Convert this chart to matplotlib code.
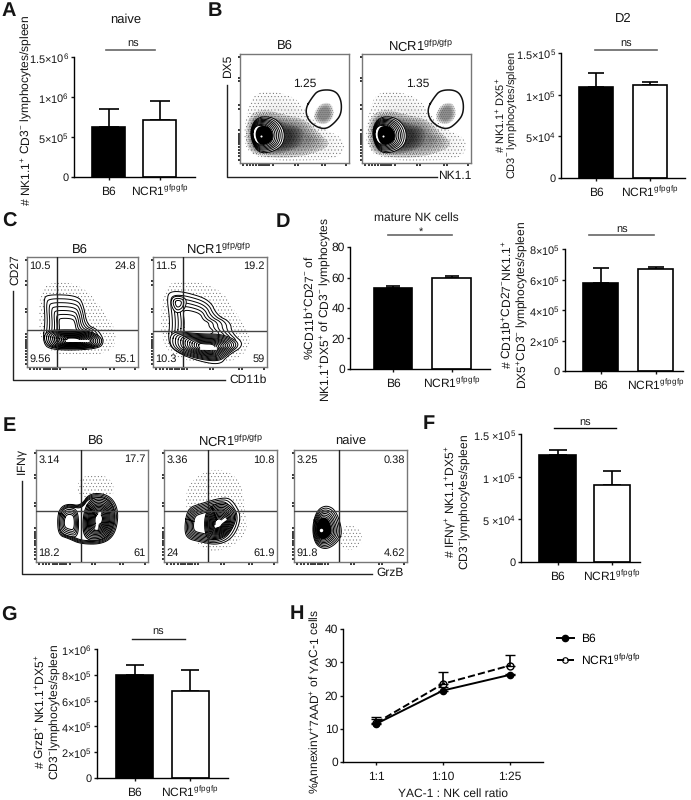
import numpy as np
import matplotlib
matplotlib.use('Agg')
import matplotlib.pyplot as plt
from matplotlib.patches import PathPatch
from matplotlib.path import Path

W, H = 691, 800
plt.rcParams['font.family'] = ['Liberation Sans', 'DejaVu Sans']
plt.rcParams['mathtext.fontset'] = 'custom'
plt.rcParams['mathtext.rm'] = 'Liberation Sans'
plt.rcParams['mathtext.it'] = 'Liberation Sans'
plt.rcParams['mathtext.bf'] = 'Liberation Sans:bold'
plt.rcParams['mathtext.default'] = 'regular'
plt.rcParams['hatch.linewidth'] = 0.25
plt.rcParams['text.hinting'] = 'no_hinting'
plt.rcParams['text.hinting_factor'] = 1

# bar panels
groups = ['B6', 'NCR1$^{gfpgfp}$']
a_vals, a_err = [6.25e5, 7.1e5], [2.3e5, 2.4e5]
b_vals, b_err = [1.09e5, 1.12e5], [0.17e5, 0.03e5]
d1_vals, d1_err = [53, 60], [1.2, 0.8]
d2_vals, d2_err = [5.79e5, 6.68e5], [0.94e5, 0.16e5]
f_vals, f_err = [1.25e5, 0.90e5], [0.06e5, 0.17e5]
g_vals, g_err = [8.0e5, 6.75e5], [0.75e5, 1.62e5]

# killing curve
ratios = ['1:1', '1:10', '1:25']
h_b6, h_b6_err = [11.5, 21.5, 26.2], [1.5, 1.0, 0.3]
h_ncr, h_ncr_err = [11.8, 23.5, 29.0], [1.7, 3.7, 3.2]

# flow plots, outlines in plot fractions
b_gate = [(.60, .50), (.66, .60), (.72, .67), (.87, .67), (.93, .58), (.93, .45), (.87, .37), (.79, .31), (.70, .33), (.62, .40)]
b_core = [(.09, .25), (.12, .38), (.20, .43), (.33, .41), (.41, .30), (.40, .17), (.30, .10), (.16, .09)]
b_sparse = [(.03, .10), (.05, .45), (.15, .68), (.50, .62), (.62, .45), (.75, .32), (.97, .22), (.93, .04), (.60, .02), (.30, .02)]
b_medium = [(.05, .10), (.06, .42), (.20, .50), (.42, .44), (.60, .40), (.72, .28), (.85, .16), (.60, .06), (.30, .04)]
b_dense = [(.07, .12), (.08, .40), (.20, .46), (.42, .36), (.58, .32), (.58, .17), (.44, .10), (.25, .07)]
b_spot = [(.66, .40), (.72, .54), (.84, .56), (.87, .42), (.77, .34)]

c1_out = [(.14, .23), (.165, .41), (.15, .61), (.18, .66), (.46, .65), (.51, .56), (.54, .38), (.64, .34), (.70, .23), (.64, .16), (.21, .15)]
c1_band = [(.15, .24), (.17, .33), (.35, .34), (.55, .33), (.66, .28), (.68, .22), (.62, .17), (.22, .16)]
c1_sparse = [(.12, .10), (.10, .65), (.20, .78), (.50, .75), (.70, .50), (.82, .30), (.75, .10)]
c2_out = [(.13, .22), (.15, .41), (.12, .64), (.16, .69), (.29, .68), (.50, .61), (.56, .47), (.68, .41), (.69, .31), (.81, .20), (.65, .10), (.59, .02), (.41, .05), (.21, .13)]
c2_band = [(.14, .22), (.17, .33), (.40, .30), (.62, .30), (.78, .21), (.65, .11), (.58, .05), (.40, .07), (.20, .14)]
c2_peak = [(.15, .58), (.18, .65), (.30, .63), (.28, .52), (.20, .48)]
c2_sparse = [(.06, .15), (.08, .72), (.25, .80), (.60, .72), (.75, .45), (.88, .25), (.75, .05), (.40, .02)]

e1_right = [(.42, .45), (.50, .58), (.64, .57), (.71, .45), (.68, .27), (.58, .19), (.42, .20)]
e1_left = [(.21, .40), (.24, .47), (.30, .49), (.38, .46), (.38, .22), (.29, .23), (.21, .27)]
e1_out = [(.19, .40), (.22, .49), (.29, .52), (.40, .50), (.48, .62), (.66, .60), (.74, .46), (.71, .25), (.60, .16), (.40, .16), (.29, .21), (.20, .24)]
e1_sparse = [(.35, .60), (.40, .78), (.65, .78), (.72, .60), (.55, .55)]
e2_out = [(.18, .31), (.21, .48), (.32, .52), (.53, .58), (.61, .55), (.69, .40), (.61, .21), (.47, .15), (.32, .18), (.20, .21)]
e2_right = [(.36, .46), (.50, .54), (.60, .50), (.65, .40), (.58, .25), (.46, .19), (.36, .22)]
e2_sparse = [(.18, .50), (.22, .72), (.45, .85), (.68, .75), (.72, .45), (.74, .25), (.55, .10), (.30, .10)]
e3_out = [(.16, .31), (.20, .46), (.285, .51), (.375, .46), (.435, .25), (.36, .15), (.27, .11), (.185, .16)]
e3_sparse = [(.40, .10), (.42, .35), (.60, .30), (.60, .12)]

nest_levels = [1, .92, .84, .76, .69, .62, .55, .49, .43, .37, .31, .25, .19]
fine_levels = [1, .93, .86, .79, .72, .66, .60, .54, .48, .42, .36, .30, .24]
flow_ticks = [.03, .06, .09, .12, .15, .17, .19, .21, .23, .25, .27, .30, .50, .53, .75, .78, .97]


def px_ax(x0, y0, x1, y1):
    return plt.gcf().add_axes([x0/W, 1-y1/H, (x1-x0)/W, (y1-y0)/H])

def label(x, y, s, **kw):
    kw.setdefault('fontsize', 8.5)
    kw.setdefault('ha', 'center')
    kw.setdefault('va', 'center')
    plt.gcf().text(x/W, 1-y/H, s, color='#151515', **kw)

def rule(x0, x1, y, color='#666666', lw=1.2):
    plt.gcf().add_artist(plt.Line2D([x0/W, x1/W], [1-y/H, 1-y/H], color=color, lw=lw))

def smooth(pts):
    # chaikin corner cutting, closed
    p = np.asarray(pts, dtype=float)
    for i in range(3):
        q = np.roll(p, -1, axis=0)
        p = np.column_stack([0.75*p+0.25*q, 0.25*p+0.75*q]).reshape(-1, 2)
    return np.vstack([p, p[0]])

def style_axes(ax, ysize=8.5):
    ax.tick_params(labelsize=8.5, length=2.5, width=1, pad=1, colors='#151515')
    ax.tick_params(axis='x', pad=10.5)
    ax.tick_params(axis='y', labelsize=ysize)
    for t in ax.get_xticklabels():
        t.set_va('baseline')
    for s in ['top', 'right']:
        ax.spines[s].set_visible(False)
    for s in ['left', 'bottom']:
        ax.spines[s].set_linewidth(1)
    ax.patch.set_alpha(0)

def bar_panel(rect, c1, c2, width, vals, err, ymax, ticks, ticklabels, cap, ysize=8):
    x0, y0, x1, y1 = rect
    step = float(c2-c1)
    ax = px_ax(x0, y0, x1, y1)
    ax.bar([0, 1], vals, width=width/step, color=['black', 'white'], edgecolor='black', linewidth=1.2, zorder=2)
    ax.errorbar([0, 1], vals, yerr=[[0, 0], err], fmt='none', ecolor='black', elinewidth=1.2, capsize=cap, capthick=1.2, zorder=1)
    ax.set_xlim(-(c1-x0)/step, 1+(x1-c2)/step)
    ax.set_ylim(0, ymax)
    ax.set_xticks([0, 1])
    ax.set_xticklabels(groups)
    ax.set_yticks(ticks)
    ax.set_yticklabels(ticklabels)
    style_axes(ax, ysize)
    return ax

def dots(ax, pts, shade, hatch=None):
    # soft edged grey cloud, dots on top if asked
    s = smooth(pts)
    c = s.mean(axis=0)
    if shade:
        for f in [1, .9, .8, .7, .6]:
            p = c+(s-c)*f
            ax.fill(p[:, 0], p[:, 1], color='black', alpha=shade, lw=0, zorder=1)
    if hatch:
        ax.add_patch(PathPatch(Path(s), fill=False, edgecolor='#555555', hatch=hatch, lw=0, zorder=1))

def nest(ax, outline, center, levels=nest_levels, lw=0.7, zorder=3):
    pts = smooth(outline)
    c = np.asarray(center)
    ax.fill(pts[:, 0], pts[:, 1], color='white', zorder=zorder, lw=0)
    for s in levels:
        p = c+(pts-c)*s
        ax.plot(p[:, 0], p[:, 1], color='black', lw=lw, zorder=zorder+0.1)

def core(ax, outline, center, scale, hole=1.5):
    pts = smooth(outline)
    c = np.asarray(center)
    p = c+(pts-c)*scale
    ax.fill(p[:, 0], p[:, 1], color='black', lw=0, zorder=4.5)
    if hole:
        ax.plot(c[0], c[1], 'o', color='white', ms=hole, mew=0, zorder=5)

def flow_ax(rect, cross=None, quads=None):
    ax = px_ax(*rect)
    ax.set_xlim(0, 1)
    ax.set_ylim(0, 1)
    ax.set_xticks(flow_ticks)
    ax.set_yticks(flow_ticks)
    ax.set_xticklabels([])
    ax.set_yticklabels([])
    ax.tick_params(length=1.8, width=1.1, color='black', pad=0)
    for s in ax.spines.values():
        s.set_color('#777777')
        s.set_linewidth(1)
    if cross:
        ax.axvline(cross[0], color='#222222', lw=1, zorder=6)
        ax.axhline(cross[1], color='#444444', lw=1, zorder=6)
    if quads:
        kw = dict(transform=ax.transAxes, fontsize=8, color='#151515', zorder=7)
        ax.text(.02, .96, quads[0], ha='left', va='top', **kw)
        ax.text(.98, .96, quads[1], ha='right', va='top', **kw)
        ax.text(.02, .03, quads[2], ha='left', va='bottom', **kw)
        ax.text(.98, .03, quads[3], ha='right', va='bottom', **kw)
    return ax

def big_axes(x, ytop, ybot, xright):
    f = plt.gcf()
    f.add_artist(plt.Line2D([x/W, x/W, xright/W], [1-ytop/H, 1-ybot/H, 1-ybot/H], color='#222222', lw=1))


fig = plt.figure(figsize=(W/100, H/100), dpi=100)

for x, y, s in [(9, 11, 'A'), (215, 11, 'B'), (9, 222, 'C'), (283, 222, 'D'), (9, 426, 'E'), (429, 424, 'F'), (9, 616, 'G'), (297, 614, 'H')]:
    label(x, y, s, fontsize=14.5, fontweight='bold')

# A
bar_panel((74, 57, 195, 177), 108.5, 159.5, 33, a_vals, a_err, 1.5e6, [0, 5e5, 1e6, 1.5e6],
          ['0', '5×10$^{5}$', '1×10$^{6}$', '1.5×10$^{6}$'], 7)
label(126, 20, 'naive', fontsize=9)
label(133, 44, 'ns', fontsize=8)
rule(106, 155, 49.5)
label(26, 110, '# NK1.1$^{+}$ CD3$^{-}$ lymphocytes/spleen', rotation=90)

# B flow
for rect, txt, tx in [((240, 54, 349, 163), '1.25', 305), ((362, 54, 471, 163), '1.35', 418)]:
    ax = flow_ax(rect)
    dots(ax, b_sparse, .012, '.....')
    dots(ax, b_medium, .10, '........')
    dots(ax, b_dense, .17)
    dots(ax, b_spot, .11, '........')
    nest(ax, b_core, (.14, .26), levels=[1, .93, .86, .80, .74, .68, .62, .57, .52], lw=0.7)
    core(ax, b_core, (.19, .25), .52)
    ax.plot(*smooth(b_gate).T, color='#111111', lw=1.1, zorder=6)
    label(tx, 84, txt, fontsize=8.5)
label(285, 46, 'B6', fontsize=9)
label(420, 46, 'NCR1$^{gfp/gfp}$', fontsize=9)
big_axes(227, 85, 177, 437)
label(228, 66, 'DX5', rotation=90)
label(455, 176, 'NK1.1')

# B bars
bar_panel((561, 53, 685, 178), 596, 650, 34, b_vals, b_err, 1.5e5, [0, 5e4, 1e5, 1.5e5],
          ['0', '5×10$^{4}$', '1×10$^{5}$', '1.5×10$^{5}$'], 6)
label(623, 19, 'D2', fontsize=9)
label(626, 44, 'ns', fontsize=8)
rule(595, 657, 49.5)
label(500, 115, '# NK1.1$^{+}$ DX5$^{+}$', rotation=90, fontsize=8)
label(513, 115, 'CD3$^{-}$ lymphocytes/spleen', rotation=90, fontsize=8)

# C
ax = flow_ax((27, 257, 138, 367), (.27, .34), ('10.5', '24.8', '9.56', '55.1'))
dots(ax, c1_sparse, 0, '.....')
nest(ax, c1_out, (.38, .30), levels=[1, .90, .80, .70, .60, .50, .40], lw=0.7)
nest(ax, c1_band, (.42, .24), levels=fine_levels, lw=0.8, zorder=4)
ax.plot([.36, .55], [.24, .24], color='white', lw=1.4, zorder=5)
ax = flow_ax((153, 257, 267, 367), (.265, .33), ('11.5', '19.2', '10.3', '59'))
dots(ax, c2_sparse, 0, '.....')
nest(ax, c2_out, (.36, .40), levels=[1, .88, .76, .64, .52, .40], lw=0.7)
nest(ax, c2_band, (.48, .18), levels=fine_levels, lw=0.7, zorder=4)
nest(ax, c2_peak, (.22, .58), levels=[1, .7, .4], lw=0.7, zorder=4)
ax.plot([.42, .54], [.17, .17], color='white', lw=2, zorder=5)
label(80, 250, 'B6', fontsize=9)
label(218, 249, 'NCR1$^{gfp/gfp}$', fontsize=9)
big_axes(13, 291, 380, 225)
label(15, 270, 'CD27', rotation=90)
label(248, 380, 'CD11b')

# D
bar_panel((350, 247, 490, 369), 393, 451.5, 38.5, d1_vals, d1_err, 80, [0, 20, 40, 60, 80],
          ['0', '20', '40', '60', '80'], 5, ysize=8.5)
label(416, 218, 'mature NK cells')
label(421, 232, '*', fontsize=8)
rule(388, 452, 235)
label(310, 308, '%CD11b$^{+}$CD27$^{-}$ of', rotation=90, fontsize=8.3)
label(325, 310, 'NK1.1$^{+}$DX5$^{+}$ of CD3$^{-}$ lymphocytes', rotation=90, fontsize=8.3)

bar_panel((565, 249, 683, 371), 600.5, 655.5, 35, d2_vals, d2_err, 8e5, [0, 2e5, 4e5, 6e5, 8e5],
          ['0', '2×10$^{5}$', '4×10$^{5}$', '6×10$^{5}$', '8×10$^{5}$'], 6)
label(622, 230, 'ns', fontsize=8)
rule(589, 654, 235)
label(507, 305, '# CD11b$^{+}$CD27$^{-}$NK1.1$^{+}$', rotation=90, fontsize=8.3)
label(522, 305, 'DX5$^{+}$CD3$^{-}$ lymphocytes/spleen', rotation=90, fontsize=8.3)

# E
ax = flow_ax((36, 450, 148, 562), (.40, .457), ('3.14', '17.7', '18.2', '61'))
dots(ax, e1_sparse, 0, '.....')
nest(ax, e1_out, (.45, .35), levels=[1, .96, .92, .88, .84], lw=0.7)
nest(ax, e1_left, (.30, .36), levels=[1, .88, .76, .64, .52], lw=0.7, zorder=4)
nest(ax, e1_right, (.56, .38), levels=fine_levels, lw=0.8, zorder=4)
ax.plot([.54, .57], [.30, .44], color='white', lw=2, zorder=5)
ax = flow_ax((164, 450, 277, 562), (.39, .457), ('3.36', '10.8', '24', '61.9'))
dots(ax, e2_sparse, 0, '.....')
nest(ax, e2_out, (.34, .34), levels=[1, .93, .86, .79, .72, .65, .58, .51], lw=0.7)
nest(ax, e2_right, (.48, .34), levels=fine_levels, lw=0.8, zorder=4)
ax.plot([.46, .54], [.32, .38], color='white', lw=2, zorder=5)
ax = flow_ax((294, 450, 407, 562), (.395, .457), ('3.25', '0.38', '91.8', '4.62'))
dots(ax, e3_sparse, 0, '.....')
nest(ax, e3_out, (.24, .29), lw=0.7)
core(ax, e3_out, (.24, .29), .5, hole=2.5)
label(96, 441, 'B6', fontsize=9)
label(230, 441, 'NCR1$^{gfp/gfp}$', fontsize=9)
label(351, 441, 'naive', fontsize=9)
big_axes(22, 481, 574, 372)
label(23, 462, 'IFN$\\gamma$', rotation=90)
label(390, 573, 'GrzB')

# F
bar_panel((521, 434, 640, 562), 557.5, 612, 36.5, f_vals, f_err, 1.5e5, [0, 5e4, 1e5, 1.5e5],
          ['0', '5 ×10$^{4}$', '1 ×10$^{5}$', '1.5 ×10$^{5}$'], 6.5)
label(585, 423, 'ns', fontsize=8)
rule(554, 616, 428, color='black', lw=1)
label(450, 502, '# IFN$\\gamma^{+}$ NK1.1$^{+}$DX5$^{+}$', rotation=90, fontsize=8.3)
label(465, 502, 'CD3$^{-}$lymphocytes/spleen', rotation=90, fontsize=8.3)

# G
bar_panel((97, 649, 228, 778), 134.5, 190, 37, g_vals, g_err, 1e6, [0, 2e5, 4e5, 6e5, 8e5, 1e6],
          ['0', '2×10$^{5}$', '4×10$^{5}$', '6×10$^{5}$', '8×10$^{5}$', '1×10$^{6}$'], 6.5)
label(158, 632, 'ns', fontsize=8)
rule(132, 185, 639, color='#222222', lw=1)
label(40, 712, '# GrzB$^{+}$ NK1.1$^{+}$DX5$^{+}$', rotation=90, fontsize=8.3)
label(55, 712, 'CD3$^{-}$lymphocytes/spleen', rotation=90, fontsize=8.3)

# H
ax = px_ax(343, 629, 543, 762)
x = np.arange(len(ratios))
ax.errorbar(x, h_ncr, yerr=[[0]*3, h_ncr_err], color='black', ls='--', lw=1.4, marker='o', ms=5,
            mfc='none', mew=1, elinewidth=1.2, capsize=3.5)
ax.errorbar(x, h_b6, yerr=[[0]*3, h_b6_err], color='black', ls='-', lw=1.4, marker='o', ms=4.5,
            elinewidth=1.2, capsize=3.5)
ax.set_xlim(-0.5, 2.5)
ax.set_ylim(0, 40)
ax.set_xticks(x)
ax.set_xticklabels(ratios)
ax.set_yticks([0, 10, 20, 30, 40])
style_axes(ax)
h1, = ax.plot([], [], color='black', ls='-', lw=1.4, marker='o', ms=4.5, label='B6')
h2, = ax.plot([], [], color='black', ls='--', lw=1.4, marker='o', ms=4, mfc='none', mew=0.8, label='NCR1$^{gfp/gfp}$')
ax.legend(handles=[h1, h2], loc='upper left', bbox_to_anchor=(546/W, 1-623/H), bbox_transform=fig.transFigure,
          frameon=False, fontsize=8.5, handlelength=1.5, handletextpad=0.6, labelspacing=0.6)
label(453, 794, 'YAC-1 : NK cell ratio')
label(315, 702, '%AnnexinV$^{+}$7AAD$^{+}$ of YAC-1 cells', rotation=90)

fig.savefig('out.png', dpi=100)
